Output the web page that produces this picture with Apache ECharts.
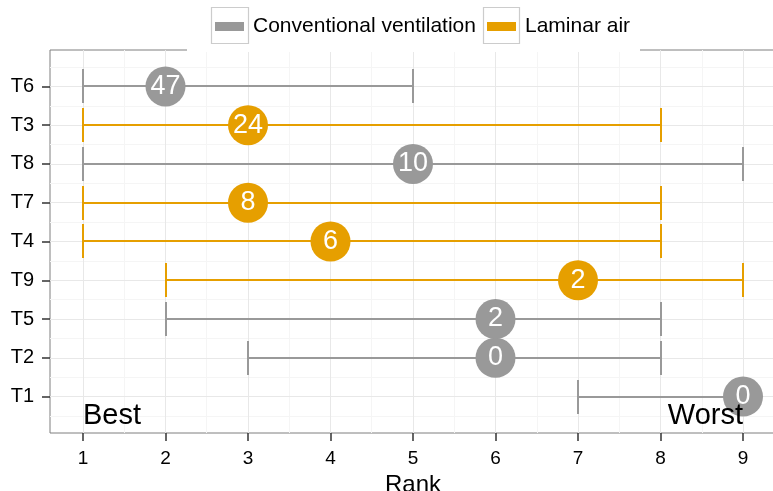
<!DOCTYPE html>
<html>
<head>
<meta charset="utf-8">
<script src="https://cdn.jsdelivr.net/npm/echarts@6/dist/echarts.min.js"></script>
<style>
  html, body { margin: 0; padding: 0; background: #ffffff; overflow: hidden; }
  #chart { width: 773px; height: 491px; }
</style>
</head>
<body>
<div id="chart"></div>
<script>
// Treatments, listed bottom to top
const categories = ['T1', 'T2', 'T5', 'T9', 'T4', 'T7', 'T8', 'T3', 'T6'];
const groups = ['Conventional ventilation', 'Conventional ventilation', 'Conventional ventilation',
                'Laminar air', 'Laminar air', 'Laminar air',
                'Conventional ventilation', 'Laminar air', 'Conventional ventilation'];
// Rank interval and point estimate
const rankLow   = [7, 3, 2, 2, 1, 1, 1, 1, 1];
const rankHigh  = [9, 8, 8, 9, 8, 8, 9, 8, 5];
const rankPoint = [9, 6, 6, 7, 4, 3, 5, 3, 2];
// Number printed inside each point
const pointLabels = ['0', '0', '2', '2', '6', '8', '10', '24', '47'];
// Axis ticks
const rankTicks = [1, 2, 3, 4, 5, 6, 7, 8, 9];
const groupNames = ['Conventional ventilation', 'Laminar air'];
const groupColors = { 'Conventional ventilation': '#999999', 'Laminar air': '#E69F00' };
// Annotations at the bottom of the panel
const endNotes = [['Best', 1, 0.5, 'left'], ['Worst', 9, 0.5, 'right']];

const FONT = 'Liberation Sans, Arial, sans-serif';

const catPos = categories.map((c, i) => i + 1);

// Panel grid lines (major on integers, minor on halves)
const xMajor = rankTicks;
const xMinor = [1.5, 2.5, 3.5, 4.5, 5.5, 6.5, 7.5, 8.5];
const yMajor = catPos;
const yMinor = [0.5, 1.5, 2.5, 3.5, 4.5, 5.5, 6.5, 7.5, 8.5, 9.5];

function gridMark(list, dim, color) {
  return list.map(v => ({ [dim]: v, lineStyle: { color: color, width: 1, type: 'solid' } }));
}

const series = [];

series.push({
  name: 'panel-grid',
  type: 'line',
  data: [],
  silent: true,
  z: 1,
  markLine: {
    z: 1,
    silent: true,
    symbol: ['none', 'none'],
    label: { show: false },
    animation: false,
    data: [].concat(
      gridMark(xMinor, 'xAxis', '#f5f5f5'),
      gridMark(yMinor, 'yAxis', '#f5f5f5'),
      gridMark(xMajor, 'xAxis', '#e8e8e8'),
      gridMark(yMajor, 'yAxis', '#e8e8e8')
    )
  }
});

groupNames.forEach(g => {
  const color = groupColors[g];
  const barData = [];
  const ptData = [];
  categories.forEach((c, i) => {
    if (groups[i] !== g) return;
    barData.push([rankLow[i], rankHigh[i], catPos[i]]);
    ptData.push([rankPoint[i], catPos[i], pointLabels[i]]);
  });
  series.push({
    name: g,
    type: 'custom',
    z: 3,
    data: barData,
    encode: { x: [0, 1], y: 2 },
    renderItem: function (params, api) {
      const lo = api.coord([api.value(0), api.value(2)]);
      const hi = api.coord([api.value(1), api.value(2)]);
      const h = api.size([0, 0.9])[1] / 2;
      // snap to whole pixels so the 2px strokes stay crisp
      const y = Math.round(lo[1]);
      const x1 = Math.round(lo[0]);
      const x2 = Math.round(hi[0]);
      const st = { stroke: color, lineWidth: 2 };
      return {
        type: 'group',
        children: [
          { type: 'line', shape: { x1: x1, y1: y, x2: x2, y2: y }, style: st },
          { type: 'line', shape: { x1: x1, y1: Math.round(y - h), x2: x1, y2: Math.round(y + h) }, style: st },
          { type: 'line', shape: { x1: x2, y1: Math.round(y - h), x2: x2, y2: Math.round(y + h) }, style: st }
        ]
      };
    }
  });
  series.push({
    name: g,
    type: 'scatter',
    z: 4,
    data: ptData,
    symbol: 'circle',
    symbolSize: 40,
    itemStyle: { color: color, opacity: 1 },
    label: {
      show: true,
      position: 'inside',
      formatter: p => p.data[2],
      color: '#ffffff',
      fontFamily: FONT,
      fontSize: 27
    }
  });
});

series.push({
  name: 'notes',
  type: 'custom',
  z: 6,
  silent: true,
  data: endNotes,
  encode: { x: 1, y: 2 },
  renderItem: function (params, api) {
    const note = endNotes[params.dataIndex];
    const p = api.coord([note[1], note[2]]);
    return {
      type: 'text',
      x: p[0],
      y: p[1],
      style: {
        text: note[0],
        align: note[3],
        verticalAlign: 'middle',
        fill: '#000000',
        font: '29px ' + FONT
      }
    };
  }
});

const chart = echarts.init(document.getElementById('chart'), null, { renderer: 'canvas', width: 773, height: 491 });

chart.setOption({
  animation: false,
  backgroundColor: '#ffffff',
  grid: {
    left: 50, right: -3, top: 50, bottom: 58,
    outerBoundsMode: 'none',
    containLabel: false,
    show: true, borderColor: '#7f7f7f', borderWidth: 1, backgroundColor: 'transparent'
  },
  xAxis: {
    type: 'value',
    min: 0.6, max: 9.4,
    name: 'Rank',
    nameLocation: 'middle',
    nameGap: 34,
    nameTextStyle: { fontFamily: FONT, fontSize: 24, color: '#000000' },
    axisLine: { show: false },
    splitLine: { show: false },
    axisTick: { show: true, customValues: rankTicks, length: 8, lineStyle: { color: '#333333', width: 1.5 } },
    axisLabel: { customValues: rankTicks, margin: 16, fontFamily: FONT, fontSize: 19, color: '#000000' }
  },
  yAxis: {
    type: 'value',
    min: 0.06, max: 9.94,
    axisLine: { show: false },
    splitLine: { show: false },
    axisTick: { show: true, customValues: catPos, length: 8, lineStyle: { color: '#333333', width: 1.5 } },
    axisLabel: {
      customValues: catPos,
      margin: 16,
      fontFamily: FONT, fontSize: 20, color: '#000000',
      formatter: v => categories[Math.round(v) - 1] || ''
    }
  },
  legend: [0, 1].map(k => ({
    show: true,
    selectedMode: false,
    orient: 'horizontal',
    left: k === 0 ? 215 : 487,
    top: 16,
    padding: 0,
    itemWidth: 29,
    itemHeight: 9,
    z: 12,
    textStyle: { fontFamily: FONT, fontSize: 21, color: '#000000', padding: [0, 0, 0, 4] },
    data: [{ name: groupNames[k], icon: 'rect', itemStyle: { color: groupColors[groupNames[k]] } }]
  })),
  graphic: [
    { type: 'rect', z: 10, silent: true, shape: { x: 187, y: 0, width: 453, height: 52 }, style: { fill: '#ffffff' } },
    { type: 'rect', z: 11, silent: true, shape: { x: 211.5, y: 7.5, width: 37, height: 36 }, style: { fill: '#ffffff', stroke: '#cccccc', lineWidth: 1.2 } },
    { type: 'rect', z: 11, silent: true, shape: { x: 483.5, y: 7.5, width: 36, height: 36 }, style: { fill: '#ffffff', stroke: '#cccccc', lineWidth: 1.2 } }
  ],
  series: series
});
</script>
</body>
</html>
